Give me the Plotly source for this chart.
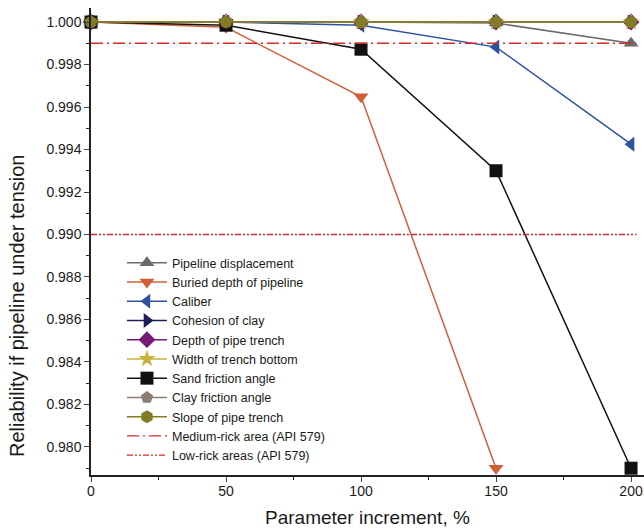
import plotly.graph_objects as go

x = [0, 50, 100, 150, 200]
pipeline_displacement = [1.0, 1.0, 1.0, 0.99995, 0.9990]
buried_depth = [1.0, 0.99975, 0.99648, 0.9790]
caliber = [1.0, 1.0, 0.99985, 0.99882, 0.99425]
cohesion_clay = [1.0, 1.0, 1.0, 1.0, 1.0]
depth_trench = [1.0, 1.0, 1.0, 1.0, 1.0]
width_trench = [1.0, 1.0, 1.0, 1.0, 1.0]
sand_friction = [1.0, 0.99985, 0.99872, 0.99300, 0.9790]
clay_friction = [1.0, 1.0, 1.0, 1.0, 1.0]
slope_trench = [1.0, 1.0, 1.0, 1.0, 1.0]
medium_risk = 0.999
low_risk = 0.990
line_x = [0, 202]

series = [
    ("Pipeline displacement", pipeline_displacement, "#6b6b6b", "triangle-up"),
    ("Buried depth of pipeline", buried_depth, "#cf5f37", "triangle-down"),
    ("Caliber", caliber, "#2e52a0", "triangle-left"),
    ("Cohesion of clay", cohesion_clay, "#1d1d5c", "triangle-right"),
    ("Depth of pipe trench", depth_trench, "#741a78", "diamond"),
    ("Width of trench bottom", width_trench, "#c9b239", "star"),
    ("Sand friction angle", sand_friction, "#111111", "square"),
    ("Clay friction angle", clay_friction, "#8a7b73", "pentagon"),
    ("Slope of pipe trench", slope_trench, "#847b25", "hexagon"),
]

fig = go.Figure()
for name, ys, col, sym in series:
    fig.add_trace(go.Scatter(
        x=x[:len(ys)], y=ys, name=name, mode="lines+markers",
        line=dict(color=col, width=1.5),
        marker=dict(symbol=sym, size=13, color=col, line=dict(width=0)),
        cliponaxis=False,
    ))

fig.add_trace(go.Scatter(x=line_x, y=[medium_risk]*2, name="Medium-rick area (API 579)",
                         mode="lines", line=dict(color="#d42a2a", width=1.3, dash="12px,4px,2px,4px")))
fig.add_trace(go.Scatter(x=line_x, y=[low_risk]*2, name="Low-rick areas (API 579)",
                         mode="lines", line=dict(color="#d42a2a", width=1.3, dash="6px,2px,2px,2px,2px,2px")))

font = "Liberation Sans, Arial, sans-serif"
fig.update_layout(
    width=644, height=530,
    margin=dict(l=91, r=0, t=8, b=55, autoexpand=False),
    plot_bgcolor="white", paper_bgcolor="white",
    font=dict(family=font, color="#1a1a1a", size=14),
    showlegend=True,
    legend=dict(x=0.056, y=0.486, xanchor="left", yanchor="top",
                bgcolor="rgba(255,255,255,0)", font=dict(size=12.5, family=font),
                tracegroupgap=0, itemwidth=40),
    xaxis=dict(range=[0, 204.8], tickvals=[0, 50, 100, 150, 200], ticks="outside",
               ticklen=5, tickwidth=1.3, showline=True, linecolor="#222", linewidth=1.5,
               showgrid=False, zeroline=False, automargin=False, ticklabelstandoff=-3,
               minor=dict(tickvals=[25, 75, 125, 175], ticks="outside", ticklen=3, tickcolor="#222"),
               tickfont=dict(size=14)),
    yaxis=dict(range=[0.97868, 1.00066], tickvals=[0.980 + 0.002*i for i in range(11)],
               tickformat=".3f", ticks="outside", ticklen=5, tickwidth=1.3,
               showline=True, linecolor="#222", linewidth=1.5, showgrid=False, zeroline=False,
               automargin=False,
               minor=dict(tickvals=[0.979 + 0.002*i for i in range(11)], ticks="outside", ticklen=3, tickcolor="#222"),
               tickfont=dict(size=14)),
    annotations=[
        dict(text="Reliability if pipeline under tension", xref="paper", yref="paper",
             x=-0.1338, y=0.362, xanchor="center", yanchor="middle", textangle=-90,
             showarrow=False, font=dict(size=20, family=font, color="#1a1a1a")),
        dict(text="Parameter increment, %", xref="paper", yref="paper",
             x=0.5, y=-0.09, xanchor="center", yanchor="middle",
             showarrow=False, font=dict(size=19, family=font, color="#1a1a1a")),
    ],
)

fig.write_html("out.html")
